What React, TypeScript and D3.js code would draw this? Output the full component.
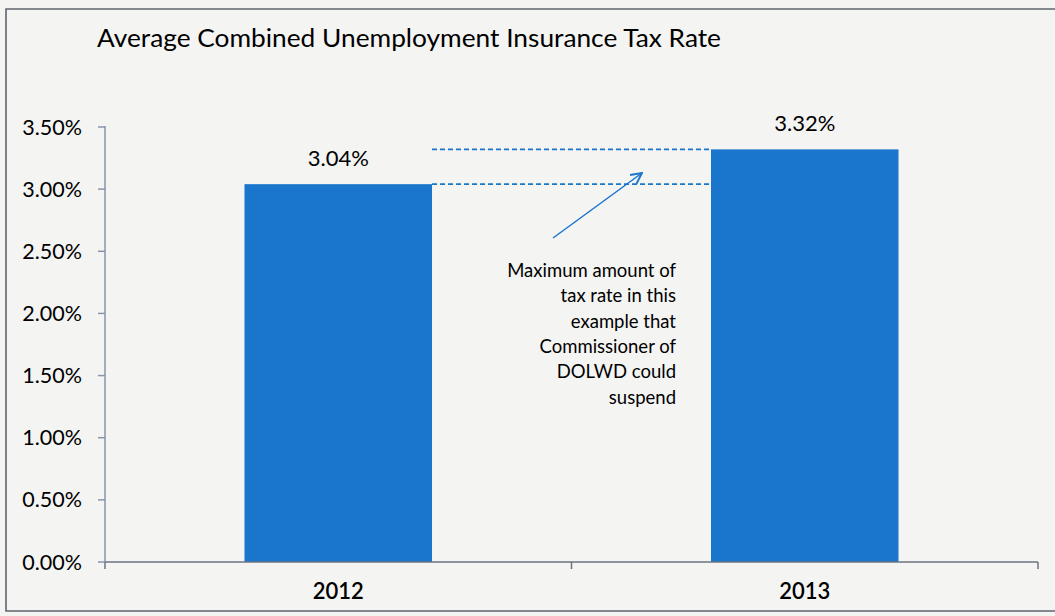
import React from "react";
import * as d3 from "d3";

const categories = ["2012", "2013"];
const values = [3.04, 3.32];
const valueLabels = ["3.04%", "3.32%"];
const yTicks = [0, 0.5, 1, 1.5, 2, 2.5, 3, 3.5];
const title = "Average Combined Unemployment Insurance Tax Rate";
const noteLines = [
  "Maximum amount of",
  "tax rate in this",
  "example that",
  "Commissioner of",
  "DOLWD could",
  "suspend",
];

const W = 1055;
const H = 616;
const FONT = "Lato, 'Open Sans', 'DejaVu Sans', sans-serif";
const BLUE = "#1a75cd";
const AXIS = "#8796ab";

export default function App() {
  const x0 = 105, x1 = 1038, yZero = 562, yTop = 127;
  const x = d3.scaleBand<string>().domain(categories).range([x0, x1]).padding(0);
  const y = d3.scaleLinear().domain([0, 3.5]).range([yZero, yTop]);
  const bw = x.bandwidth() * 0.402;
  const fmt = d3.format(".2%");

  const xa = x("2012")! + x.bandwidth() / 2 + bw / 2;
  const xb = x("2013")! + x.bandwidth() / 2 - bw / 2;

  return (
    <svg
      width={W}
      height={H}
      style={{ position: "absolute", left: 0, top: 0, background: "#f4f4f3" }}
    >
      <defs>
        <marker id="arr" viewBox="0 0 10 10" refX="9" refY="5" markerWidth="9" markerHeight="9" orient="auto">
          <path d="M1,1 L9,5 L1,9" fill="none" stroke={BLUE} strokeWidth="1.4" />
        </marker>
      </defs>
      <rect x={0} y={0} width={W} height={H} fill="#f4f4f3" />
      {/* outer frame */}
      <path d={`M${W},9 L6,9 L6,611 L${W},611`} fill="none" stroke="#5f6670" strokeWidth={1.6} />

      <text x={97} y={47} fontFamily={FONT} fontSize={25} fill="#000" textLength={624} lengthAdjust="spacingAndGlyphs">
        {title}
      </text>

      {/* bars */}
      {categories.map((c, i) => {
        const cx = x(c)! + x.bandwidth() / 2;
        return (
          <g key={c}>
            <rect x={cx - bw / 2} y={y(values[i])} width={bw} height={yZero - y(values[i])} fill={BLUE} />
            <text x={cx} y={y(values[i]) - 18} textAnchor="middle" fontFamily={FONT} fontSize={22} fill="#000">
              {valueLabels[i]}
            </text>
            <text x={cx} y={599} textAnchor="middle" fontFamily={FONT} fontSize={22} fontWeight={600} fill="#000">
              {c}
            </text>
          </g>
        );
      })}

      {/* y axis */}
      <line x1={x0} x2={x0} y1={yTop - 1} y2={yZero} stroke={AXIS} strokeWidth={1.5} />
      {yTicks.map((t) => (
        <g key={t}>
          <line x1={x0 - 7} x2={x0} y1={y(t)} y2={y(t)} stroke={AXIS} strokeWidth={1.5} />
          <text x={82} y={y(t) + 7.5} textAnchor="end" fontFamily={FONT} fontSize={21.5} fill="#000">
            {fmt(t / 100)}
          </text>
        </g>
      ))}

      {/* x axis */}
      <line x1={x0} x2={x1} y1={yZero} y2={yZero} stroke="#6b7480" strokeWidth={1.5} />
      {[x0, x0 + x.bandwidth(), x1].map((t, i) => (
        <line key={i} x1={t} x2={t} y1={yZero} y2={yZero + 7} stroke="#6b7480" strokeWidth={1.5} />
      ))}

      {/* dashed reference lines */}
      <line x1={xa} x2={xb} y1={y(values[1])} y2={y(values[1])} stroke={BLUE} strokeWidth={1.6} strokeDasharray="5,3" />
      <line x1={xa} x2={xb} y1={y(values[0])} y2={y(values[0])} stroke={BLUE} strokeWidth={1.6} strokeDasharray="5,3" />

      {/* arrow */}
      <line x1={553} y1={238} x2={642} y2={173} stroke={BLUE} strokeWidth={1.5} markerEnd="url(#arr)" />

      {/* annotation */}
      {noteLines.map((l, i) => (
        <text key={i} x={676} y={277 + i * 25.3} textAnchor="end" fontFamily={FONT} fontSize={18.5} fill="#000">
          {l}
        </text>
      ))}
    </svg>
  );
}
